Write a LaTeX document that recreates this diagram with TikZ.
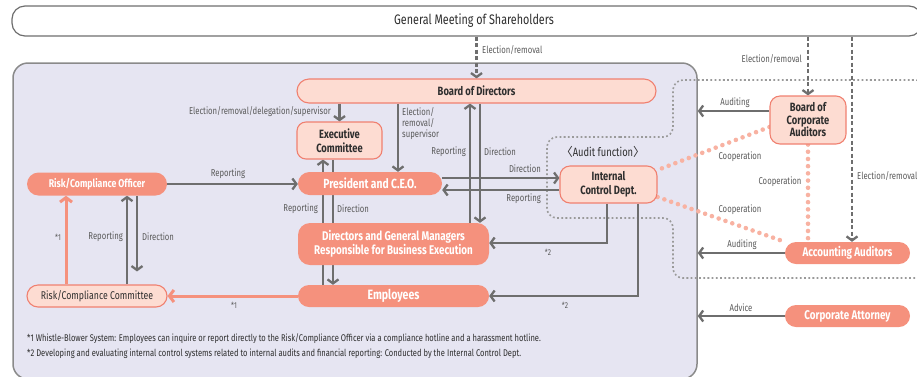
\documentclass[tikz,border=0pt]{standalone}
\usepackage{fontspec}
\setmainfont{Fira Sans}[FakeStretch=0.78]
\newfontfamily\cjk{Noto Sans CJK JP}
\usetikzlibrary{arrows.meta}
\definecolor{salmon}{HTML}{F5917D}
\definecolor{peach}{HTML}{FDDCD2}
\definecolor{peachline}{HTML}{F08070}
\definecolor{lav}{HTML}{E6E5F2}
\definecolor{lavline}{HTML}{8A8A8A}
\definecolor{gline}{HTML}{6E6E6E}
\definecolor{gtext}{HTML}{5A5A5A}
\definecolor{dtext}{HTML}{2E2E2E}
\definecolor{coopc}{HTML}{F8B2A2}
\definecolor{auditc}{HTML}{9A9A9A}
\pgfdeclarelayer{bottom}
\pgfdeclarelayer{back}
\pgfsetlayers{bottom,back,main}
\tikzset{
  lbl/.style={font=\fontsize{9.9}{11}\selectfont, text=gtext, inner sep=0pt},
  starlbl/.style={font=\fontsize{8.5}{9}\selectfont, text=gtext, inner sep=0pt},
  notetxt/.style={font=\fontsize{9.7}{11}\selectfont, text=dtext, inner sep=0pt, anchor=west},
  pill/.style={fill=salmon, draw=none, text=white, font=\bfseries\fontsize{12.6}{14}\selectfont, inner sep=0pt, align=center},
  softbox/.style={fill=peach, draw=peachline, line width=1.1pt, text=dtext, font=\bfseries\fontsize{12}{13.5}\selectfont, inner sep=0pt, align=center},
  garrow/.style={draw=gline, line width=2.3pt, -{Straight Barb[length=4pt,width=11pt,line width=2.3pt]}},
  dasharrow/.style={garrow, dash pattern=on 4pt off 2.5pt},
  sarrow/.style={draw=salmon, line width=3pt, -{Straight Barb[length=4.5pt,width=12pt,line width=3pt]}},
  coop/.style={draw=coopc, line width=4.6pt, line cap=round, dash pattern=on 0pt off 7.2pt},
  auditdot/.style={draw=auditc, line width=1.6pt, dash pattern=on 1.8pt off 2.4pt},
}
\begin{document}
\begin{tikzpicture}[x=1pt,y=-1pt]
\useasboundingbox (0,0) rectangle (917,376);

% frames
\node[fill=white, draw=gline, line width=1.2pt, rounded corners=13pt, minimum width=910pt, minimum height=30pt, inner sep=0pt, text=dtext, font=\fontsize{13.8}{15}\selectfont] (gms) at (467,21) {\hspace*{14pt}General Meeting of Shareholders};
\begin{pgfonlayer}{bottom}
\node[fill=lav, draw=lavline, line width=1.5pt, rounded corners=15pt, minimum width=684pt, minimum height=316pt, inner sep=0pt] (corp) at (355,221) {};
\draw[auditdot, rounded corners=10pt] (610,137) -- (673,137) -- (673,80) -- (926,80) -- (926,278) -- (673,278) -- (673,218) -- (547,218) -- (547,137) -- cycle;
\end{pgfonlayer}

% boxes
\node[softbox, minimum width=359pt, minimum height=24pt, rounded corners=12pt] (board) at (476.5,91) {Board of Directors};
\node[softbox, minimum width=85pt, minimum height=37pt, rounded corners=9pt] (exec) at (339.5,140.5) {Executive\\Committee};
\node[pill, minimum width=144pt, minimum height=23pt, rounded corners=11.5pt, font=\bfseries\fontsize{13.2}{15}\selectfont] (pres) at (370,183.5) {President and C.E.O.};
\node[pill, minimum width=191pt, minimum height=42pt, rounded corners=12pt] (dirs) at (393.5,244) {Directors and General Managers\\Responsible for Business Execution};
\node[pill, minimum width=191pt, minimum height=22pt, rounded corners=11pt, font=\bfseries\fontsize{13.5}{15}\selectfont] (emp) at (393.5,296) {Employees};
\node[softbox, minimum width=97pt, minimum height=37pt, rounded corners=10pt] (ic) at (608.5,184.5) {Internal\\Control Dept.};
\node[pill, minimum width=140pt, minimum height=23pt, rounded corners=11.5pt, font=\bfseries\fontsize{11.2}{12}\selectfont] (rco) at (97,184) {Risk/Compliance Officer};
\node[softbox, minimum width=140pt, minimum height=22pt, rounded corners=11pt, font=\fontsize{11.2}{12}\selectfont] (rcc) at (97,296) {Risk/Compliance Committee};
\node[softbox, minimum width=76pt, minimum height=48pt, rounded corners=10pt, font=\bfseries\fontsize{12}{12.5}\selectfont] (bca) at (808,120) {Board of\\Corporate\\Auditors};
\node[pill, minimum width=125pt, minimum height=22pt, rounded corners=11pt] (aa) at (847.5,253) {Accounting Auditors};
\node[pill, minimum width=125pt, minimum height=22pt, rounded corners=11pt] (ca) at (847.5,316) {Corporate Attorney};

% helper coordinates
\coordinate (x66) at (66,0);
\coordinate (x127) at (127,0);
\coordinate (x137) at (137,0);
\coordinate (x323) at (323,0);
\coordinate (x333) at (333,0);
\coordinate (x398) at (398,0);
\coordinate (x470) at (470,0);
\coordinate (x480) at (480,0);
\coordinate (x607) at (607,0);
\coordinate (x638) at (638,0);
\coordinate (x852) at (852,0);
\coordinate (y111) at (0,111);
\coordinate (y127) at (0,127);
\coordinate (y170) at (0,170);
\coordinate (y178) at (0,178);
\coordinate (y190) at (0,190);
\coordinate (y197) at (0,197);
\coordinate (y243) at (0,243);

% connectors
\begin{pgfonlayer}{back}
\draw[dasharrow] (gms.south -| board.north) -- (board.north);
\draw[dasharrow] (gms.south -| bca.north) -- (bca.north);
\draw[dasharrow] (gms.south -| x852) -- (aa.north -| x852);
\draw[garrow] (board.south -| exec.north) -- (exec.north);
\draw[garrow] (board.south -| x398) -- (pres.north -| x398);
\draw[garrow] (dirs.north -| x470) -- (board.south -| x470);
\draw[garrow] (board.south -| x480) -- (dirs.north -| x480);
\draw[garrow] (pres.east |- y178) -- (ic.west |- y178);
\draw[garrow] (ic.west |- y190) -- (pres.east |- y190);
\draw[garrow] (rco.east) -- (pres.west |- rco.east);
\draw[garrow] (emp.north -| x323) -- (exec.south -| x323);
\draw[garrow] (exec.south -| x333) -- (emp.north -| x333);
\draw[garrow] (ic.south -| x607) |- (dirs.east |- y243);
\draw[garrow] (ic.south -| x638) |- (emp.east);
\draw[sarrow] (rcc.north -| x66) -- (rco.south -| x66);
\draw[sarrow] (emp.west) -- (rcc.east);
\draw[garrow] (rcc.north -| x127) -- (rco.south -| x127);
\draw[garrow, shorten >=13pt] (rco.south -| x137) -- (rcc.north -| x137);
\draw[garrow] (bca.west |- y111) -- (corp.east |- y111);
\draw[garrow] (aa.west) -- (corp.east |- aa.west);
\draw[garrow] (ca.west) -- (corp.east |- ca.west);
\draw[coop] (bca.west |- y127) -- (ic.east |- y170);
\draw[coop] (ic.east |- y197) -- (aa.north west);
\draw[coop] (bca.south) -- (aa.north -| bca.south);
\end{pgfonlayer}

% labels
\node[lbl, anchor=west] at (482,50) {Election/removal};
\node[lbl, anchor=east] at (802,59) {Election/removal};
\node[lbl, anchor=west] at (857,176) {Election/removal};
\node[lbl, anchor=east] at (331,112) {Election/removal/delegation/supervisor};
\node[lbl, anchor=north west, align=left, font=\fontsize{9.9}{11}\selectfont] at (402,107) {Election/\\removal/\\supervisor};
\node[lbl, anchor=east] at (466,152) {Reporting};
\node[lbl, anchor=west] at (484,152) {Direction};
\node[lbl, anchor=east] at (541,169) {Direction};
\node[lbl, anchor=east] at (541,199) {Reporting};
\node[lbl] at (228,174) {Reporting};
\node[lbl, anchor=east] at (318,209) {Reporting};
\node[lbl, anchor=west] at (337,209) {Direction};
\node[starlbl] at (58,237) {*1};
\node[lbl, anchor=east] at (123,237) {Reporting};
\node[lbl, anchor=west] at (142,237) {Direction};
\node[starlbl] at (234,305) {*1};
\node[starlbl] at (548,252) {*2};
\node[starlbl] at (565,305) {*2};
\node[lbl] at (735,103) {Auditing};
\node[lbl] at (742,245) {Auditing};
\node[lbl] at (741,308) {Advice};
\node[lbl] at (740,157) {Cooperation};
\node[lbl] at (780,182) {Cooperation};
\node[lbl] at (740,210) {Cooperation};
\node[inner sep=0pt, text=dtext, font=\fontsize{12}{13}\selectfont] at (603,152) {{\cjk 〈}Audit function{\cjk 〉}};
\node[notetxt] at (27,339) {*1 Whistle-Blower System: Employees can inquire or report directly to the Risk/Compliance Officer via a compliance hotline and a harassment hotline.};
\node[notetxt] at (27,354) {*2 Developing and evaluating internal control systems related to internal audits and financial reporting: Conducted by the Internal Control Dept.};
\end{tikzpicture}
\end{document}
